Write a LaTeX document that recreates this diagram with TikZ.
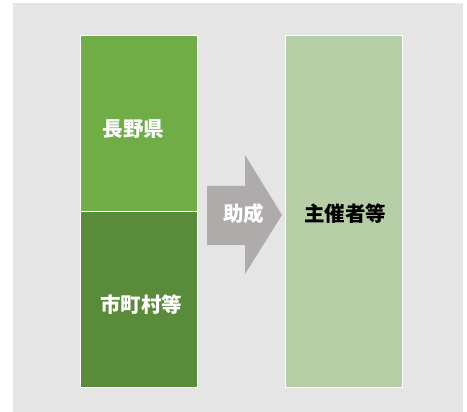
\documentclass[tikz,border=0pt]{standalone}
\usepackage{fontspec}
\newfontfamily\jpfont{Noto Sans CJK JP}
\definecolor{bggray}{HTML}{E5E5E5}
\definecolor{kengreen}{HTML}{70AD47}
\definecolor{shigreen}{HTML}{5A8B3B}
\definecolor{shugreen}{HTML}{B5CEA6}
\definecolor{arrowgray}{HTML}{AFABAB}
\begin{document}
\begin{tikzpicture}[x=1pt,y=-1pt,
    box/.style={draw=white,line width=1.2pt,minimum width=117pt,inner sep=0pt,anchor=north west},
    lbl/.style={font=\jpfont\bfseries\fontsize{20.5}{20.5}\selectfont,text=white}]
            \useasboundingbox (0,0) rectangle (467,412);
            \fill[bggray] (13,3) rectangle (463,412);
            \node[box,fill=kengreen,minimum height=176pt] (ken) at (80,35) {};
            \node[box,fill=shigreen,minimum height=176pt] (shi) at (80,211) {};
            \node[box,fill=shugreen,minimum height=352pt] (shu) at (285,35) {};
            \fill[arrowgray] (207,186) -- (245,186) -- (245,155) -- (282,215) -- (245,274) -- (245,245) -- (207,245) -- cycle;
            \node[lbl] (kentxt) at (133.5,129) {長野県};
            \node[lbl] (shitxt) at (141,305) {市町村等};
            \node[lbl] (josei) at (243.5,214) {助成};
            \node[lbl,text=black] (shutxt) at (345,214) {主催者等};
        \end{tikzpicture}
\end{document}
